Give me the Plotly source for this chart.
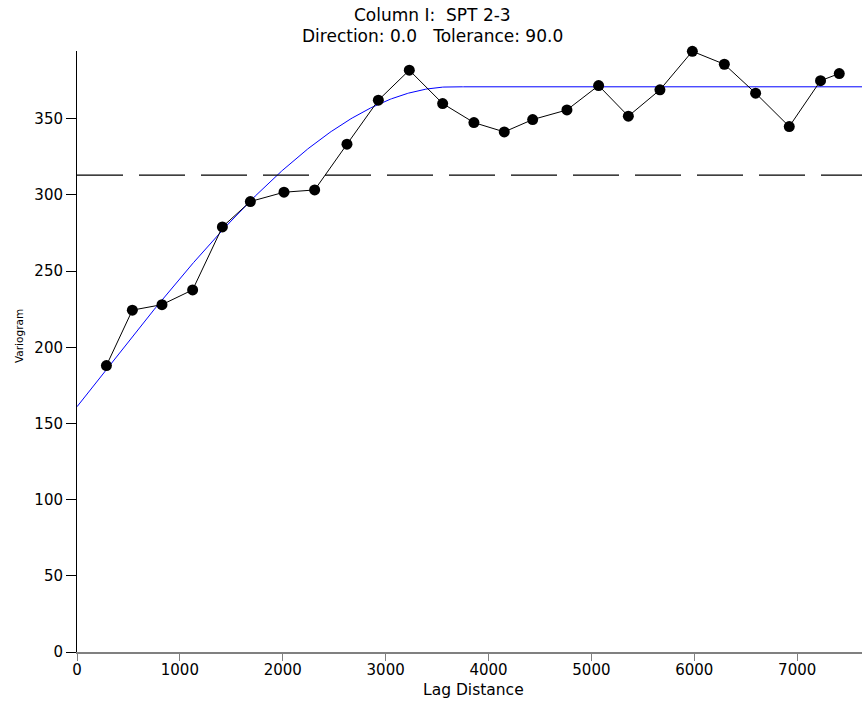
import numpy as np
import plotly.graph_objects as go

# Experimental variogram: lag distance vs. semivariance
lag = [286, 538, 826, 1124, 1413, 1685, 2012, 2310, 2624, 2929, 3230, 3554,
       3858, 4153, 4429, 4762, 5070, 5359, 5666, 5981, 6292, 6596, 6923,
       7227, 7409]
gamma = [188.0, 224.4, 228.0, 237.7, 279.0, 295.7, 301.8, 303.3, 333.3,
         362.2, 381.9, 360.0, 347.5, 341.4, 349.5, 355.8, 371.8, 351.7,
         369.0, 394.3, 385.8, 366.8, 344.9, 375.0, 379.7]

# Fitted spherical model parameters
nugget = 161.0
sill = 371.0
model_range = 3650.0

# Sample variance (dashed reference line)
variance = 313.0

x_max = 7630
y_max = 394.5
x_ticks = [0, 1000, 2000, 3000, 4000, 5000, 6000, 7000]
y_ticks = [0, 50, 100, 150, 200, 250, 300, 350]

h = np.linspace(0, x_max, 600)
r = np.minimum(h / model_range, 1.0)
model = nugget + (sill - nugget) * (1.5 * r - 0.5 * r ** 3)

FONT = "DejaVu Sans"

fig = go.Figure()
fig.add_trace(go.Scatter(x=h, y=model, mode="lines",
                         line=dict(color="#0000ff", width=1),
                         hoverinfo="skip", showlegend=False))
fig.add_trace(go.Scatter(x=lag, y=gamma, mode="lines+markers",
                         line=dict(color="black", width=1),
                         marker=dict(color="black", size=11, symbol="circle"),
                         cliponaxis=False, showlegend=False))

fig.add_shape(type="line", xref="paper", x0=0, x1=1, yref="y",
              y0=variance, y1=variance,
              line=dict(color="black", width=1.2, dash="46px,16px"))

fig.update_layout(
    width=862, height=706,
    margin=dict(l=77, r=0, t=51, b=54),
    paper_bgcolor="white", plot_bgcolor="white",
    font=dict(family=FONT, color="black"),
    xaxis=dict(range=[0, x_max], tickvals=x_ticks,
               ticktext=[str(v) for v in x_ticks],
               showgrid=False, zeroline=False,
               showline=True, linecolor="#808080", linewidth=2,
               ticks="outside", ticklen=7, tickcolor="#808080", tickwidth=1,
               ticklabelstandoff=-4,
               tickfont=dict(family=FONT, size=15, color="black")),
    yaxis=dict(range=[0, y_max], tickvals=y_ticks,
               ticktext=[str(v) for v in y_ticks],
               showgrid=False, zeroline=False,
               showline=True, linecolor="black", linewidth=1,
               ticks="outside", ticklen=10, tickcolor="black", tickwidth=1,
               tickfont=dict(family=FONT, size=15, color="black")),
    annotations=[
        dict(text="Column I:\u00a0\u00a0SPT 2-3", xref="paper", yref="paper",
             x=0.4535, y=1.0 + 36.5 / 601, xanchor="center", yanchor="middle",
             showarrow=False, font=dict(family=FONT, size=17, color="black")),
        dict(text="Direction: 0.0\u00a0\u00a0\u00a0Tolerance: 90.0",
             xref="paper", yref="paper",
             x=0.4535, y=1.0 + 15.5 / 601, xanchor="center", yanchor="middle",
             showarrow=False, font=dict(family=FONT, size=17, color="black")),
        dict(text="Lag Distance", xref="paper", yref="paper",
             x=0.5045, y=-38 / 601, xanchor="center", yanchor="middle",
             showarrow=False, font=dict(family=FONT, size=15.5, color="black")),
        dict(text="Variogram", xref="paper", yref="paper",
             x=-58 / 785, y=(652 - 336) / 601, xanchor="center",
             yanchor="middle", textangle=-90,
             showarrow=False, font=dict(family=FONT, size=10.5, color="black")),
    ],
)

fig.write_html("out.html")
